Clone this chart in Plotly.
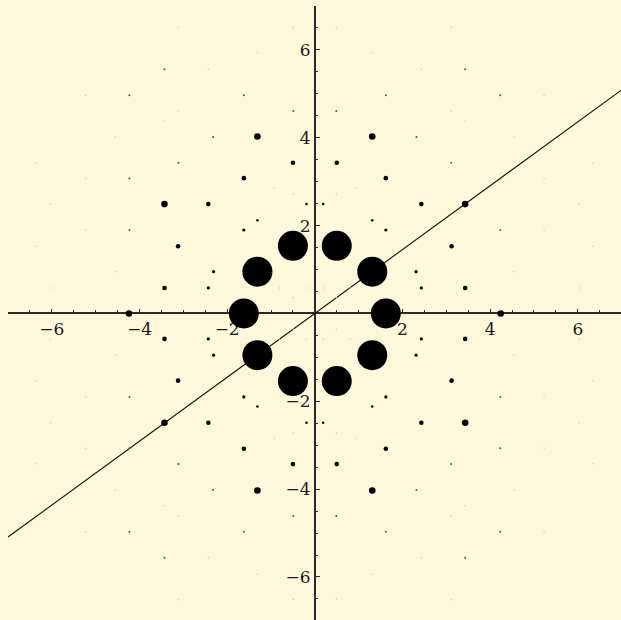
import plotly.graph_objects as go

# Ring of ten strong peaks (radius ~1.62)
big_x = [1.62, 1.31, 0.50, -0.50, -1.31, -1.62, -1.31, -0.50, 0.50, 1.31]
big_y = [0.00, 0.95, 1.54, 1.54, 0.95, 0.00, -0.95, -1.54, -1.54, -0.95]

# Outer ring of ten (radius ~4.24)
large_x = [4.24, 3.43, 1.31, -1.31, -3.43, -4.24, -3.43, -1.31, 1.31, 3.43]
large_y = [0.00, 2.49, 4.03, 4.03, 2.49, 0.00, -2.49, -4.03, -4.03, -2.49]

# Twenty peaks at radius ~3.47
medium_x = [3.43, 3.43, -3.43, -3.43, 3.12, 3.12, -3.12, -3.12,
            2.43, 2.43, -2.43, -2.43, 1.62, 1.62, -1.62, -1.62,
            0.50, 0.50, -0.50, -0.50]
medium_y = [0.58, -0.58, 0.58, -0.58, 1.53, -1.53, 1.53, -1.53,
            2.49, -2.49, 2.49, -2.49, 3.08, -3.08, 3.08, -3.08,
            3.43, -3.43, 3.43, -3.43]

# Weaker peaks at radius ~2.5
small_x = [2.43, 2.43, -2.43, -2.43, 2.31, 2.31, -2.31, -2.31,
           1.62, 1.62, -1.62, -1.62]
small_y = [0.58, -0.58, 0.58, -0.58, 0.95, -0.95, 0.95, -0.95,
           1.90, -1.90, 1.90, -1.90]
smaller_x = [1.31, 1.31, -1.31, -1.31, 0.19, 0.19, -0.19, -0.19]
smaller_y = [2.12, -2.12, 2.12, -2.12, 2.49, -2.49, 2.49, -2.49]

# Tiny peaks further out
tiny_x = [1.62, 1.62, -1.62, -1.62, 4.23, 4.23, -4.23, -4.23,
          4.23, 4.23, -4.23, -4.23, 0.49, 0.49, -0.49, -0.49,
          4.23, 4.23, -4.23, -4.23, 3.11, 3.11, -3.11, -3.11,
          2.32, 2.32, -2.32, -2.32, 3.43, 3.43, -3.43, -3.43]
tiny_y = [4.97, -4.97, 4.97, -4.97, 4.97, -4.97, 4.97, -4.97,
          3.07, -3.07, 3.07, -3.07, 4.61, -4.61, 4.61, -4.61,
          1.90, -1.90, 1.90, -1.90, 3.43, -3.43, 3.43, -3.43,
          4.02, -4.02, 4.02, -4.02, 5.56, -5.56, 5.56, -5.56]

# Very faint peaks
faint_x = [4.54, 4.54, -4.54, -4.54, 0.49, 0.49, -0.49, -0.49,
           1.31, 1.31, -1.31, -1.31, 2.43, 2.43, -2.43, -2.43,
           3.11, 3.11, -3.11, -3.11, 5.23, 5.23, -5.23, -5.23,
           4.55, 4.55, -4.55, -4.55, 3.11, 3.11, -3.11, -3.11,
           6.35, 6.35, -6.35, -6.35, 5.23, 5.23, -5.23, -5.23,
           6.03, 6.03, -6.03, -6.03, 6.35, 6.35, -6.35, -6.35,
           5.23, 5.23, -5.23, -5.23, 6.03, 6.03, -6.03, -6.03,
           0.93, 0.93, -0.93, -0.93, 0.49, 0.49, -0.49, -0.49,
           3.43, 3.43, -3.43, -3.43, 0.49, 0.49, -0.49, -0.49,
           0.19, 0.19, -0.19, -0.19, 0.81, 0.81, -0.81, -0.81]
faint_y = [0.95, -0.95, 0.95, -0.95, 6.51, -6.51, 6.51, -6.51,
           5.94, -5.94, 5.94, -5.94, 5.56, -5.56, 5.56, -5.56,
           6.52, -6.52, 6.52, -6.52, 4.97, -4.97, 4.97, -4.97,
           4.02, -4.02, 4.02, -4.02, 4.61, -4.61, 4.61, -4.61,
           3.42, -3.42, 3.42, -3.42, 3.07, -3.07, 3.07, -3.07,
           2.49, -2.49, 2.49, -2.49, 1.53, -1.53, 1.53, -1.53,
           1.90, -1.90, 1.90, -1.90, 0.58, -0.58, 0.58, -0.58,
           2.85, -2.85, 2.85, -2.85, 2.72, -2.72, 2.72, -2.72,
           4.38, -4.38, 4.38, -4.38, 0.36, -0.36, 0.36, -0.36,
           0.58, -0.58, 0.58, -0.58, 0.58, -0.58, 0.58, -0.58]

# Straight line through the origin
line_x = [-7.0, 7.0]
line_y = [-5.09, 5.09]

tick_vals = [-6, -4, -2, 2, 4, 6]

BG = "#fdf8dc"
INK = "#1a1a1a"

fig = go.Figure()

fig.add_trace(go.Scatter(x=line_x, y=line_y, mode="lines",
                         line=dict(color="#111111", width=1.1),
                         hoverinfo="skip", showlegend=False))

groups = [
    (faint_x, faint_y, 1.5, "#d2cbb2"),
    (tiny_x, tiny_y, 2.0, "#555555"),
    (smaller_x, smaller_y, 2.6, "#111111"),
    (small_x, small_y, 3.2, "#000000"),
    (medium_x, medium_y, 4.6, "#000000"),
    (large_x, large_y, 6.6, "#000000"),
    (big_x, big_y, 30, "#000000"),
]
for gx, gy, size, color in groups:
    fig.add_trace(go.Scatter(x=gx, y=gy, mode="markers",
                             marker=dict(size=size, color=color,
                                         line=dict(width=0)),
                             hoverinfo="skip", showlegend=False))

x_range = [-7.0, 6.985]
y_range = [-6.98, 7.0]
x_pos = (0 - x_range[0]) / (x_range[1] - x_range[0])
y_pos = (0 - y_range[0]) / (y_range[1] - y_range[0])

axis_common = dict(
    showgrid=False, zeroline=False, showline=True,
    linecolor="#2a2a2a", linewidth=1.6,
    ticks="inside", ticklen=4, tickwidth=1, tickcolor="#2a2a2a",
    tickvals=tick_vals,
    tickfont=dict(family="DejaVu Serif", size=17, color=INK),
    minor=dict(dtick=0.5, tick0=0, ticks="inside", ticklen=2.4,
               tickwidth=1, tickcolor="#2a2a2a"),
    anchor="free", layer="below traces", fixedrange=True,
)

fig.update_layout(
    width=621, height=620,
    margin=dict(l=8, r=0, t=6, b=0, pad=0),
    paper_bgcolor=BG, plot_bgcolor=BG,
    xaxis=dict(range=x_range, position=y_pos, side="bottom", **axis_common),
    yaxis=dict(range=y_range, position=x_pos, side="left", **axis_common),
)

fig.write_html("out.html")
